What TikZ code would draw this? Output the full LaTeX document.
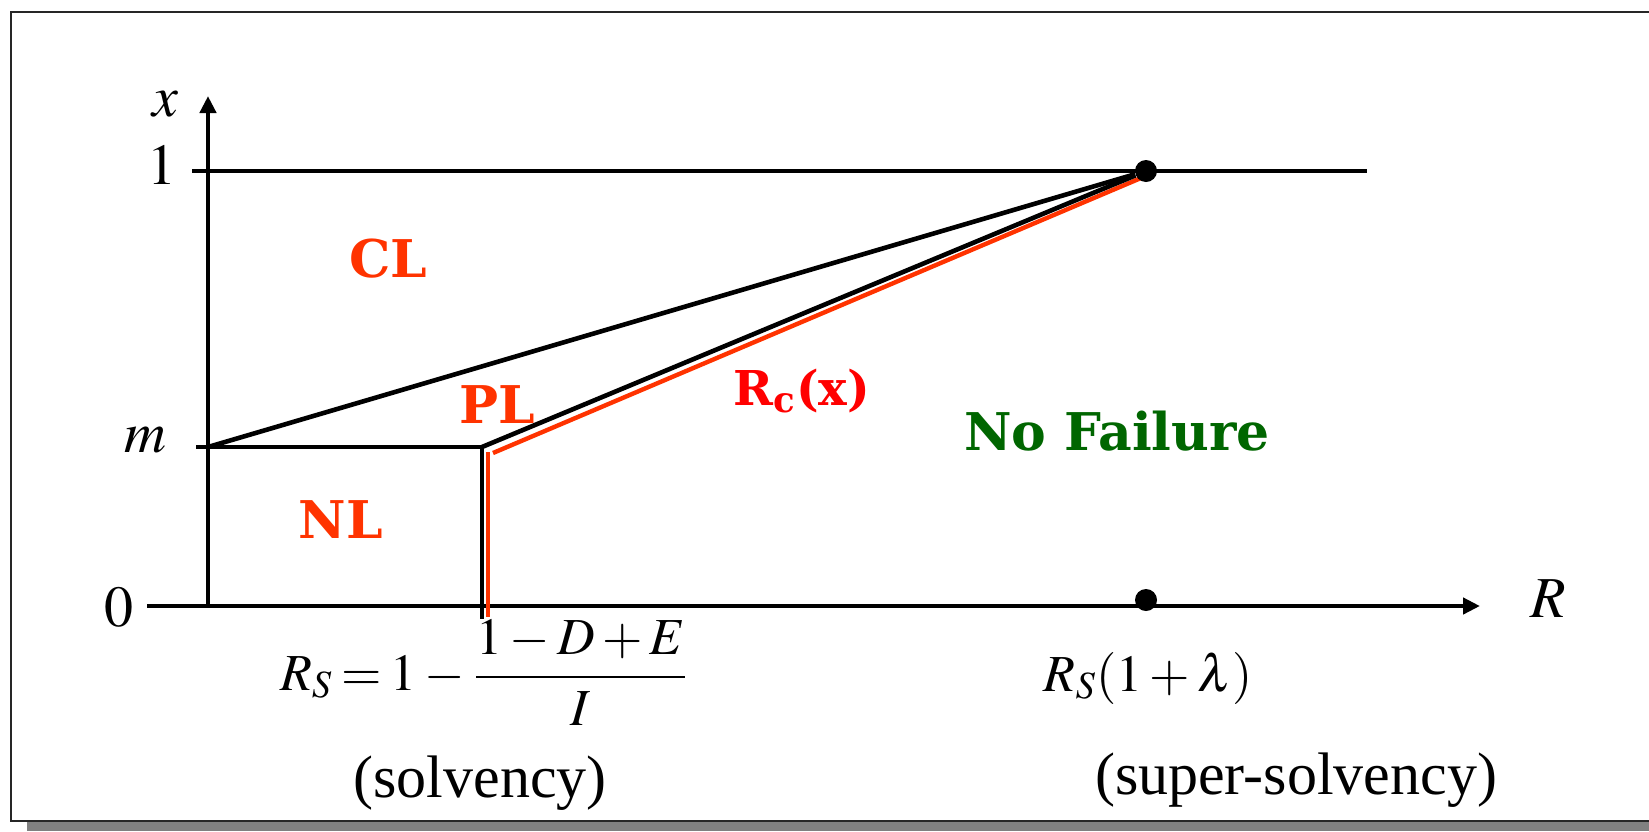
\documentclass[tikz,border=0pt]{standalone}
\usepackage{mathptmx}
\usepackage[no-math]{fontspec}
\setmainfont{Liberation Serif}
\newfontfamily\labfont{DejaVu Serif}
\usetikzlibrary{arrows.meta}
\definecolor{regred}{RGB}{255,51,0}
\definecolor{rcred}{RGB}{255,0,0}
\definecolor{nfgreen}{RGB}{0,102,0}
\definecolor{shadowgray}{RGB}{128,128,128}
\tikzset{
  axisline/.style={line width=2.3pt, black},
  curveline/.style={line width=2.3pt, black},
  redline/.style={line width=2.2pt, regred},
  axlab/.style={inner sep=0pt, anchor=base, font=\fontsize{29}{30}\selectfont},
  reglab/.style={inner sep=0pt, anchor=base, text=regred, font=\labfont\bfseries\fontsize{26}{28}\selectfont},
  txtlab/.style={inner sep=0pt, anchor=base, font=\fontsize{30}{32}\selectfont},
  mathlab/.style={inner sep=0pt, anchor=base, font=\fontsize{26}{30}\selectfont},
  blackdot/.style={circle, fill=black, inner sep=0pt, minimum size=11pt},
}
\begin{document}
\begin{tikzpicture}[x=0.5pt,y=-0.5pt]
\useasboundingbox (0,0) rectangle (1649,831);
% frame and shadow
\fill[shadowgray] (27,821) rectangle (1649,831);
\draw[line width=0.8pt, black!85] (1649,12) -- (11,12) -- (11,821) -- (1649,821);

% coordinates
\coordinate (O) at (208,606);
\coordinate (ytop) at (208,96);
\coordinate (xstart) at (147,606);
\coordinate (xend) at (1480,606);
\coordinate (onel) at (192,171);
\coordinate (oner) at (1367,171);
\coordinate (ml) at (196,447);
\coordinate (M) at (208,447);
\coordinate (S) at (482,447);
\coordinate (Sb) at (482,619);
\coordinate (rv1) at (488,452);
\coordinate (rv2) at (488,617);
\coordinate (rd1) at (493,453);
\coordinate (rd2) at (1141,178);

% axes
\draw[axisline, -{Triangle[length=8.5pt,width=8pt]}] (O) -- (ytop);
\draw[axisline, -{Triangle[length=8.5pt,width=8pt]}] (xstart) -- (xend);

% lines
\draw[curveline] (onel) -- (oner);
\draw[curveline] (ml) -- (S);
\draw[curveline] (S) -- (Sb);
\draw[redline] (rv1) -- (rv2);
\draw[redline] (rd1) -- (rd2);

\node[blackdot] (P) at (1146,171) {};
\node[blackdot] (Q) at (1146,600) {};
\draw[curveline] (M) -- (P);
\draw[curveline] (S) -- (P);

% axis labels
\node[axlab] (lx) at (165,116) {$x$};
\node[axlab] (l1) at (162,184) {$1$};
\node[axlab] (lm) at (145,452) {$m$};
\node[axlab] (l0) at (119,626) {$0$};
\node[axlab] (lR) at (1548,617) {$R$};

% region labels
\node[reglab] (CL) at (388,277) {CL};
\node[reglab] (PL) at (497,423) {PL};
\node[reglab] (NL) at (341,538) {NL};
\node[inner sep=0pt, anchor=base, text=rcred, font=\labfont\bfseries\fontsize{24}{26}\selectfont] (Rc) at (802,405) {R\textsubscript{c}(x)};
\node[inner sep=0pt, anchor=base, text=nfgreen, font=\labfont\bfseries\fontsize{26}{28}\selectfont] (NF) at (1117,450) {No Failure};

% bottom labels
\node[mathlab, anchor=base east] (RS) at (688,690) {$\displaystyle R_S \mkern3mu{=}\mkern3mu 1 \mkern3mu{-}\mkern3mu \frac{1 - D + E}{I}$};
\node[txtlab] (solv) at (480,797) {(solvency)};
\node[mathlab] (RSl) at (1148,691) {$R_S(1 + \lambda)$};
\node[txtlab] (ssolv) at (1296,794) {(super-solvency)};
\end{tikzpicture}
\end{document}
